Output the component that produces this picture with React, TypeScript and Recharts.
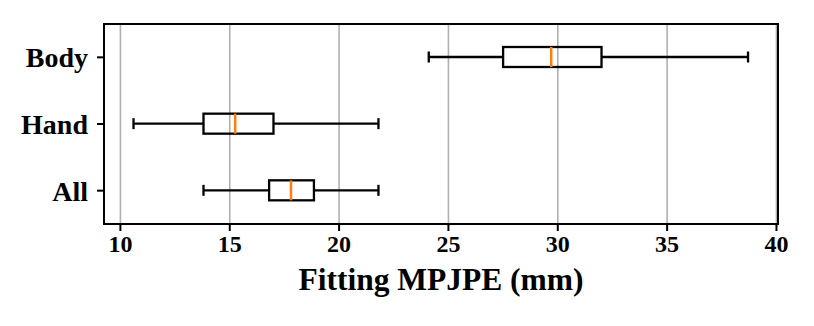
import { ComposedChart, Bar, XAxis, YAxis, CartesianGrid, ReferenceArea } from 'recharts';

const categories = ['Body', 'Hand', 'All'];
const whiskerLow = [24.1, 10.6, 13.8];
const q1 = [27.5, 13.8, 16.8];
const median = [29.7, 15.25, 17.8];
const q3 = [32.0, 17.0, 18.85];
const whiskerHigh = [38.7, 21.8, 21.8];
const xTicks = [10, 15, 20, 25, 30, 35, 40];
const xDomain: [number, number] = [9.25, 40.07];

const data = categories.map((name, i) => ({
  name,
  low: whiskerLow[i],
  q1: q1[i],
  median: median[i],
  q3: q3[i],
  high: whiskerHigh[i],
  range: [whiskerLow[i], whiskerHigh[i]],
}));

const FONT = '"Liberation Serif", "Times New Roman", serif';

// draws one horizontal box plot inside the range bar [low, high]
const BoxShape = (props: any) => {
  const { x, y, width, height, payload } = props;
  const { low, high } = payload;
  const px = (v: number) => x + ((v - low) / (high - low)) * width;
  const cy = y + height / 2;
  const half = height / 2;
  const cap = 5.5;
  const sw = 2.3;
  return (
    <g>
      <line x1={px(low)} x2={px(payload.q1)} y1={cy} y2={cy} stroke="#000" strokeWidth={sw} />
      <line x1={px(payload.q3)} x2={px(high)} y1={cy} y2={cy} stroke="#000" strokeWidth={sw} />
      <line x1={px(low)} x2={px(low)} y1={cy - cap} y2={cy + cap} stroke="#000" strokeWidth={sw} />
      <line x1={px(high)} x2={px(high)} y1={cy - cap} y2={cy + cap} stroke="#000" strokeWidth={sw} />
      <rect
        x={px(payload.q1)}
        y={cy - half}
        width={px(payload.q3) - px(payload.q1)}
        height={half * 2}
        fill="none"
        stroke="#000"
        strokeWidth={sw}
      />
      <line
        x1={px(payload.median)}
        x2={px(payload.median)}
        y1={cy - half}
        y2={cy + half}
        stroke="#ff7f0e"
        strokeWidth={2.5}
      />
    </g>
  );
};

export default function App() {
  return (
    <div style={{ position: 'absolute', left: 0, top: 0, width: 814, height: 326, background: '#fff' }}>
      <ComposedChart
        width={814}
        height={326}
        data={data}
        layout="vertical"
        margin={{ top: 24, right: 36, bottom: 0, left: 0 }}
      >
        <CartesianGrid horizontal={false} vertical stroke="#b0b0b0" strokeWidth={1.6} />
        <XAxis
          type="number"
          domain={xDomain}
          ticks={xTicks}
          allowDataOverflow
          height={102}
          tickSize={7}
          tickMargin={4}
          axisLine={{ stroke: '#000', strokeWidth: 2 }}
          tickLine={{ stroke: '#000', strokeWidth: 2 }}
          tick={{ fill: '#000', fontSize: 24, fontWeight: 'bold', fontFamily: FONT }}
          label={{
            value: 'Fitting MPJPE (mm)',
            position: 'insideBottom',
            offset: 36,
            fill: '#000',
            fontSize: 31.5,
            fontWeight: 'bold',
            fontFamily: FONT,
          }}
        />
        <YAxis
          type="category"
          dataKey="name"
          width={104}
          tickSize={7}
          tickMargin={9}
          axisLine={{ stroke: '#000', strokeWidth: 2 }}
          tickLine={{ stroke: '#000', strokeWidth: 2 }}
          tick={{ fill: '#000', fontSize: 28, fontWeight: 'bold', fontFamily: FONT }}
        />
        <Bar dataKey="range" barSize={20} shape={<BoxShape />} isAnimationActive={false} />
        <ReferenceArea x1={xDomain[0]} x2={xDomain[1]} fill="none" stroke="#000" strokeWidth={2} ifOverflow="extendDomain" />
      </ComposedChart>
    </div>
  );
}
